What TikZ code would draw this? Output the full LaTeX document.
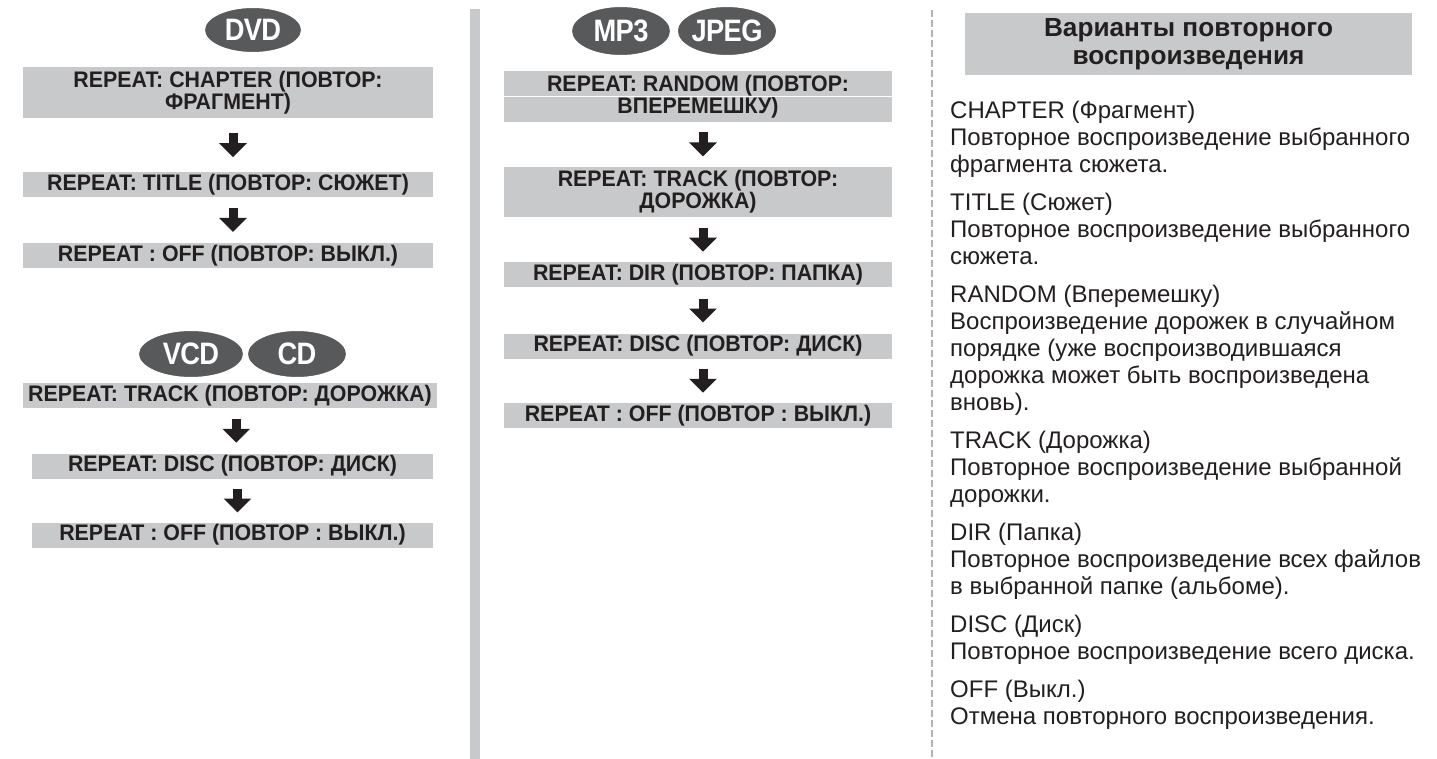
\documentclass[tikz,border=0pt]{standalone}
\usepackage{fontspec}
\setmainfont{Liberation Sans}
\newfontfamily\boxfont[FakeStretch=0.95]{Liberation Sans Bold}
\newfontfamily\discfont[FakeStretch=0.88,LetterSpace=-2]{Liberation Sans Bold}
\usetikzlibrary{arrows.meta,shapes.geometric,calc}
\definecolor{boxgray}{HTML}{C8C9CB}
\definecolor{discgray}{HTML}{58595B}
\definecolor{ink}{HTML}{231F20}
\definecolor{dashgray}{HTML}{B1B3B6}
\newcommand\fatdown[2]{\draw[fatarrow] ($(#1.south)!0.5!(#2.north)+(5,-12)$) -- ++(0,24);}
\begin{document}
\begin{tikzpicture}[x=1pt,y=-1pt,
  modebox/.style={fill=boxgray, inner xsep=0pt, inner ysep=0pt, align=center, text=ink,
    font=\fontsize{22.5}{22}\boxfont},
  disc/.style={ellipse, fill=discgray, draw=white, line width=2pt, inner sep=0pt,
    minimum width=100pt, minimum height=48pt, text=white,
    font=\fontsize{31}{31}\discfont},
  fatarrow/.style={line width=9pt, draw=ink, -{Triangle[width=27pt,length=14pt]}},
  desc/.style={anchor=base west, inner sep=0pt, text=ink, font=\fontsize{24}{27}\selectfont},
  hdrbox/.style={fill=boxgray, inner sep=0pt, align=center, text=ink,
    font=\fontsize{26.2}{28}\selectfont\bfseries},
]
\useasboundingbox (0,0) rectangle (1437,759);
\fill[white] (0,0) rectangle (1437,759);

% separators
\fill[boxgray] (470,9) rectangle (480,759);
\draw[dashgray, line width=2.5pt, dash pattern=on 7pt off 3pt] (932,10) -- (932,759);

% ---------- DVD ----------
\node[disc, minimum width=98pt, minimum height=46pt] (dvd) at (253,30) {DVD};
\node[modebox, minimum width=410pt, minimum height=51pt] (dvdA) at (228,93) {REPEAT: CHAPTER (ПОВТОР:\\ФРАГМЕНТ)};
\node[modebox, minimum width=410pt, minimum height=25pt] (dvdB) at (228,184.5) {REPEAT: TITLE (ПОВТОР: СЮЖЕТ)};
\node[modebox, minimum width=410pt, minimum height=25pt] (dvdC) at (228,255.5) {REPEAT : OFF (ПОВТОР: ВЫКЛ.)};
\fatdown{dvdA}{dvdB}
\fatdown{dvdB}{dvdC}

% ---------- VCD / CD ----------
\node[disc, minimum width=106pt] (vcd) at (191,354) {VCD};
\node[disc] (cd) at (297,354) {CD};
\node[modebox, minimum width=414pt, minimum height=25pt] (vcA) at (230,395.5) {REPEAT: TRACK (ПОВТОР: ДОРОЖКА)};
\node[modebox, minimum width=401pt, minimum height=25pt] (vcB) at (232.5,466) {REPEAT: DISC (ПОВТОР: ДИСК)};
\node[modebox, minimum width=401pt, minimum height=25pt] (vcC) at (232.5,535) {REPEAT : OFF (ПОВТОР : ВЫКЛ.)};
\fatdown{vcA}{vcB}
\fatdown{vcB}{vcC}

% ---------- MP3 / JPEG ----------
\node[disc, minimum height=50pt] (mp3) at (621,31) {MP3};
\node[disc, minimum height=50pt] (jpeg) at (727,31) {JPEG};
\node[modebox, minimum width=388pt, minimum height=51pt] (mpA) at (698,96.5) {REPEAT: RANDOM (ПОВТОР:\\ВПЕРЕМЕШКУ)};
\draw[white, line width=0.8pt] (mpA.west) -- (mpA.east);
\node[modebox, minimum width=388pt, minimum height=50pt] (mpB) at (698,192) {REPEAT: TRACK (ПОВТОР:\\ДОРОЖКА)};
\node[modebox, minimum width=388pt, minimum height=25pt] (mpC) at (698,275) {REPEAT: DIR (ПОВТОР: ПАПКА)};
\node[modebox, minimum width=388pt, minimum height=25pt] (mpD) at (698,346) {REPEAT: DISC (ПОВТОР: ДИСК)};
\node[modebox, minimum width=388pt, minimum height=25pt] (mpE) at (698,415.5) {REPEAT : OFF (ПОВТОР : ВЫКЛ.)};
\fatdown{mpA}{mpB}
\fatdown{mpB}{mpC}
\fatdown{mpC}{mpD}
\fatdown{mpD}{mpE}

% ---------- legend ----------
\node[hdrbox, minimum width=447pt, minimum height=62pt] (hdr) at (1188.5,44) {Варианты повторного\\воспроизведения};
\foreach \yy/\tx [count=\i] in {
  118.5/{CHAPTER (Фрагмент)},
  145.5/{Повторное воспроизведение выбранного},
  172.5/{фрагмента сюжета.},
  210.5/{TITLE (Сюжет)},
  237.5/{Повторное воспроизведение выбранного},
  264.5/{сюжета.},
  302.5/{RANDOM (Вперемешку)},
  329.5/{Воспроизведение дорожек в случайном},
  356.5/{порядке (уже воспроизводившаяся},
  383.5/{дорожка может быть воспроизведена},
  410.5/{вновь).},
  448.5/{TRACK (Дорожка)},
  475.5/{Повторное воспроизведение выбранной},
  502.5/{дорожки.},
  540.5/{DIR (Папка)},
  567.5/{Повторное воспроизведение всех файлов},
  594.5/{в выбранной папке (альбоме).},
  632.5/{DISC (Диск)},
  659.5/{Повторное воспроизведение всего диска.},
  697.5/{OFF (Выкл.)},
  724.5/{Отмена повторного воспроизведения.}}
  \node[desc] (line\i) at (950,\yy) {\tx};
\end{tikzpicture}
\end{document}
